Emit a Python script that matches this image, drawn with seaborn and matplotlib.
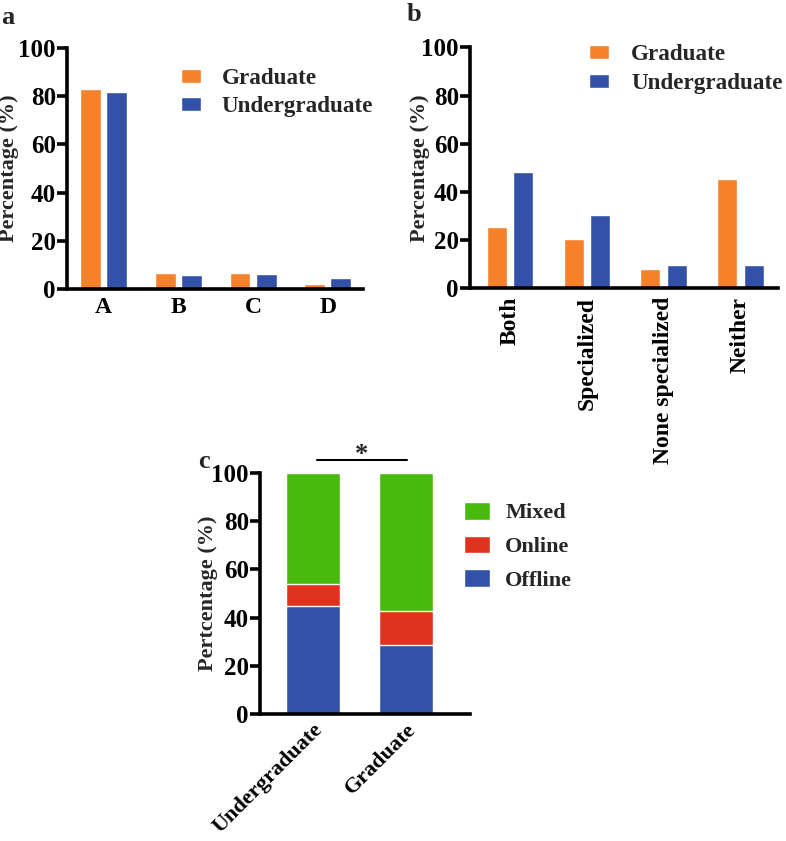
import matplotlib
matplotlib.use('Agg')
import numpy as np
import pandas as pd
import matplotlib.pyplot as plt
import seaborn as sns

# ---------------- data ----------------
a_cats = ['A', 'B', 'C', 'D']
a_grad = [83.0, 6.8, 6.8, 2.2]
a_under = [81.7, 6.0, 6.4, 4.6]

b_cats = ['Both', 'Specialized', 'None specialized', 'Neither']
b_grad = [25.3, 20.7, 8.0, 45.5]
b_under = [48.5, 30.6, 9.8, 9.8]

c_groups = ['Undergraduate', 'Graduate']
c_offline = [45.0, 28.7]
c_online = [9.0, 14.1]
c_mixed = [46.0, 57.2]

hue_names = ['Graduate', 'Undergraduate']
orange = '#F5822A'
blue = '#3451A9'
green = '#48BA0C'
red = '#E0321F'

sns.set_theme(style='ticks')
plt.rcParams['font.family'] = ['Liberation Serif', 'DejaVu Serif']
plt.rcParams['font.weight'] = 'bold'
plt.rcParams['axes.labelweight'] = 'bold'

FS = 17      # x tick labels
YFS = 16     # y axis title
TFS = 18     # y tick labels

fig = plt.figure(figsize=(7.86, 8.41), dpi=100)


def style_axis(ax, ylabel, label_x):
    for s in ['top', 'right']:
        ax.spines[s].set_visible(False)
    for s in ['left', 'bottom']:
        ax.spines[s].set_linewidth(2.6)
        ax.spines[s].set_color('black')
    ax.tick_params(axis='y', length=7, width=2.6, labelsize=TFS, colors='black', pad=1)
    ax.tick_params(axis='x', length=0, labelsize=FS, colors='black', pad=6)
    ax.set_ylim(0, 100)
    ax.set_yticks([0, 20, 40, 60, 80, 100])
    ax.set_xlabel('')
    for lab in ax.get_xticklabels() + ax.get_yticklabels():
        lab.set_fontweight('bold')
    ax.set_ylabel(ylabel, fontsize=YFS, fontweight='bold')
    ax.yaxis.label.set_verticalalignment('center')
    ax.yaxis.set_label_coords(label_x, 0.5)


def long_df(cats, grad, under):
    return pd.DataFrame({
        'cat': cats * 2,
        'val': list(grad) + list(under),
        'grp': ['Graduate'] * len(cats) + ['Undergraduate'] * len(cats),
    })


# -------- panel a --------
ax1 = fig.add_axes([0.0852, 0.6564, 0.3766, 0.2866])
sns.barplot(data=long_df(a_cats, a_grad, a_under), x='cat', y='val', hue='grp',
            hue_order=hue_names, palette=[orange, blue], width=0.7, gap=0.2,
            saturation=1, ax=ax1)
style_axis(ax1, 'Percentage (%)', -0.195)
ax1.set_xlim(-0.49, 3.47)
ax1.legend(frameon=False, loc='upper left', bbox_to_anchor=(0.385, 0.915),
           prop={'size': 16.7, 'weight': 'bold'}, handlelength=0.86,
           handleheight=0.55, handletextpad=0.9, labelspacing=0.3,
           borderpad=0, borderaxespad=0)

# -------- panel b --------
ax2 = fig.add_axes([0.598, 0.6570, 0.392, 0.2866])
sns.barplot(data=long_df(b_cats, b_grad, b_under), x='cat', y='val', hue='grp',
            hue_order=hue_names, palette=[orange, blue], width=0.69, gap=0.25,
            saturation=1, ax=ax2)
style_axis(ax2, 'Percentage (%)', -0.163)
ax2.set_xlim(-0.52, 3.49)
ax2.set_xticks(range(len(b_cats)))
ax2.set_xticklabels(b_cats, rotation=90, fontsize=FS, fontweight='bold')
ax2.legend(frameon=False, loc='upper left', bbox_to_anchor=(0.385, 1.015),
           prop={'size': 16.7, 'weight': 'bold'}, handlelength=0.86,
           handleheight=0.55, handletextpad=0.98, labelspacing=0.36,
           borderpad=0, borderaxespad=0)

# -------- panel c (stacked) --------
ax3 = fig.add_axes([0.3308, 0.151, 0.267, 0.2866])
c_df = pd.DataFrame({'grp': c_groups, 'Offline': c_offline,
                     'Online': c_online, 'Mixed': c_mixed})
c_df['top_online'] = c_df['Offline'] + c_df['Online']
c_df['top_mixed'] = c_df['top_online'] + c_df['Mixed']
sns.barplot(data=c_df, x='grp', y='top_mixed', color=green, width=0.58,
            saturation=1, ax=ax3, label='Mixed')
sns.barplot(data=c_df, x='grp', y='top_online', color=red, width=0.58,
            saturation=1, ax=ax3, label='Online')
sns.barplot(data=c_df, x='grp', y='Offline', color=blue, width=0.58,
            saturation=1, ax=ax3, label='Offline')
style_axis(ax3, 'Pertcentage (%)', -0.25)
ax3.set_xlim(-0.57, 1.69)
ax3.set_xticks(range(len(c_groups)))
ax3.set_xticklabels(c_groups, rotation=45, ha='right', rotation_mode='anchor',
                    fontsize=16, fontweight='bold')
ax3.tick_params(axis='x', pad=4)
ax3.legend(frameon=False, loc='upper left', bbox_to_anchor=(0.97, 0.88),
           prop={'size': 16, 'weight': 'bold'}, handlelength=1.17,
           handleheight=0.85, handletextpad=0.7, labelspacing=0.55,
           borderpad=0, borderaxespad=0)

# significance bar
ax3.plot([0.04, 1.01], [105.3, 105.3], color='black', lw=1.5, clip_on=False)
ax3.text(0.52, 102.8, '*', ha='center', va='bottom', fontsize=19,
         fontweight='bold', clip_on=False)

# panel letters
fig.text(0.002, 0.993, 'a', fontsize=19, fontweight='bold', va='top', ha='left')
fig.text(0.517, 0.997, 'b', fontsize=19, fontweight='bold', va='top', ha='left')
fig.text(0.252, 0.465, 'c', fontsize=19, fontweight='bold', va='top', ha='left')

fig.savefig('out.png', dpi=100)
